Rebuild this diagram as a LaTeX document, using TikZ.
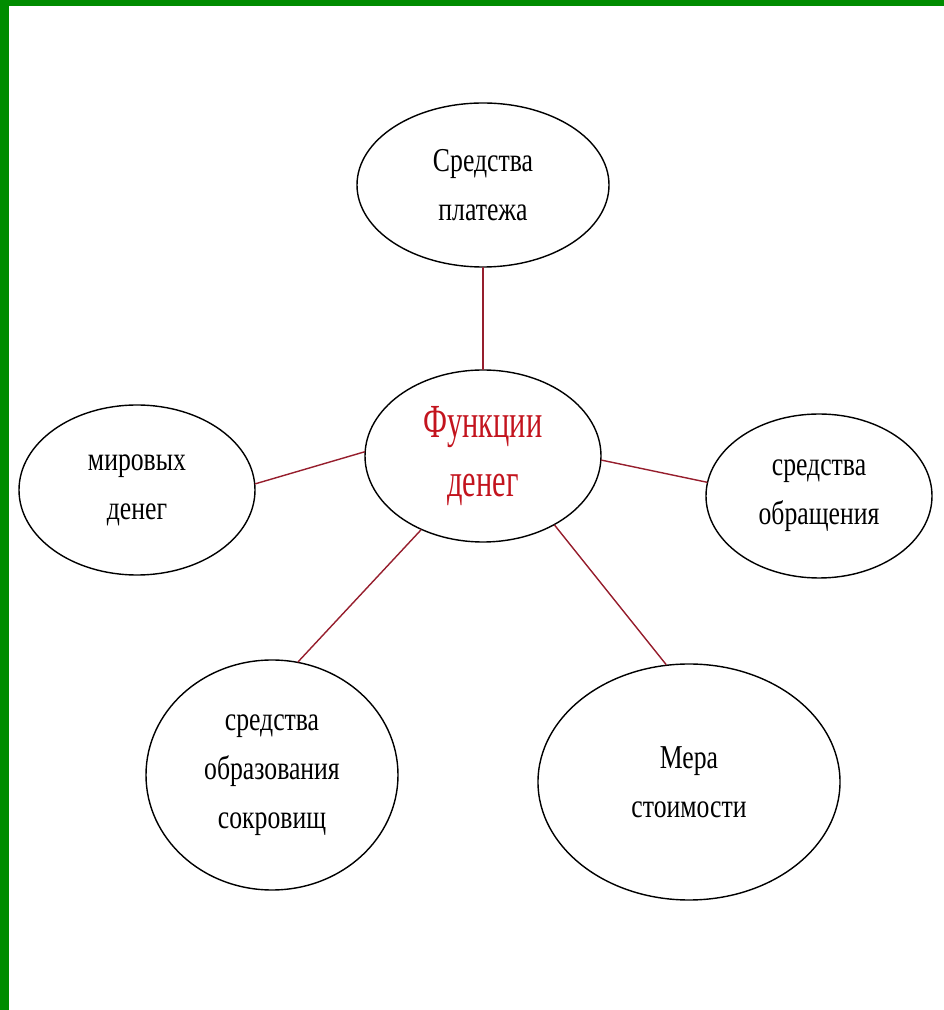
\documentclass[tikz,border=0pt]{standalone}
\usepackage{fontspec}
\newfontfamily\narrowserif[FakeStretch=0.77]{Liberation Serif}
\newfontfamily\tightserif[FakeStretch=0.64]{Liberation Serif}
\usetikzlibrary{shapes.geometric}
\definecolor{framegreen}{RGB}{0,140,0}
\definecolor{linkred}{RGB}{150,30,45}
\definecolor{titlered}{RGB}{195,20,30}

\begin{document}
\begin{tikzpicture}[line cap=round]
  \tikzstyle{oval}=[ellipse,draw,line width=0.8pt,inner sep=0pt,align=center,font=\narrowserif\fontsize{19}{28}\selectfont];
  \tikzstyle{link}=[draw=linkred,line width=0.8pt];

  % green frame
  \useasboundingbox (0,0) rectangle (18.88,20.2);
  \fill[framegreen] (0,20.08) rectangle (18.88,20.2);
  \fill[framegreen] (0,0) rectangle (0.18,20.2);

  % ovals
  \node[oval,minimum width=5.04cm,minimum height=3.28cm] (pay) at (9.66,16.5) {Средства\\платежа};
  \node[oval,minimum width=4.72cm,minimum height=3.44cm,text=titlered,font=\tightserif\fontsize{27}{34}\selectfont] (func) at (9.66,11.08) {Функции\\денег};
  \node[oval,minimum width=4.72cm,minimum height=3.40cm] (world) at (2.74,10.4) {мировых\\денег};
  \node[oval,minimum width=4.52cm,minimum height=3.28cm] (circ) at (16.38,10.28) {средства\\обращения};
  \node[oval,minimum width=5.04cm,minimum height=4.6cm] (hoard) at (5.44,4.7) {средства\\образования\\сокровищ};
  \node[oval,minimum width=6.04cm,minimum height=4.72cm] (meas) at (13.78,4.56) {Мера\\стоимости};

  % links
  \draw[link] (func.90) -- (pay.270);
  \draw[link] (func.178) -- (world.3);
  \draw[link] (func.358) -- (circ.173);
  \draw[link] (func.230) -- (hoard.77);
  \draw[link] (func.316) -- (meas.101);
\end{tikzpicture}
\end{document}
